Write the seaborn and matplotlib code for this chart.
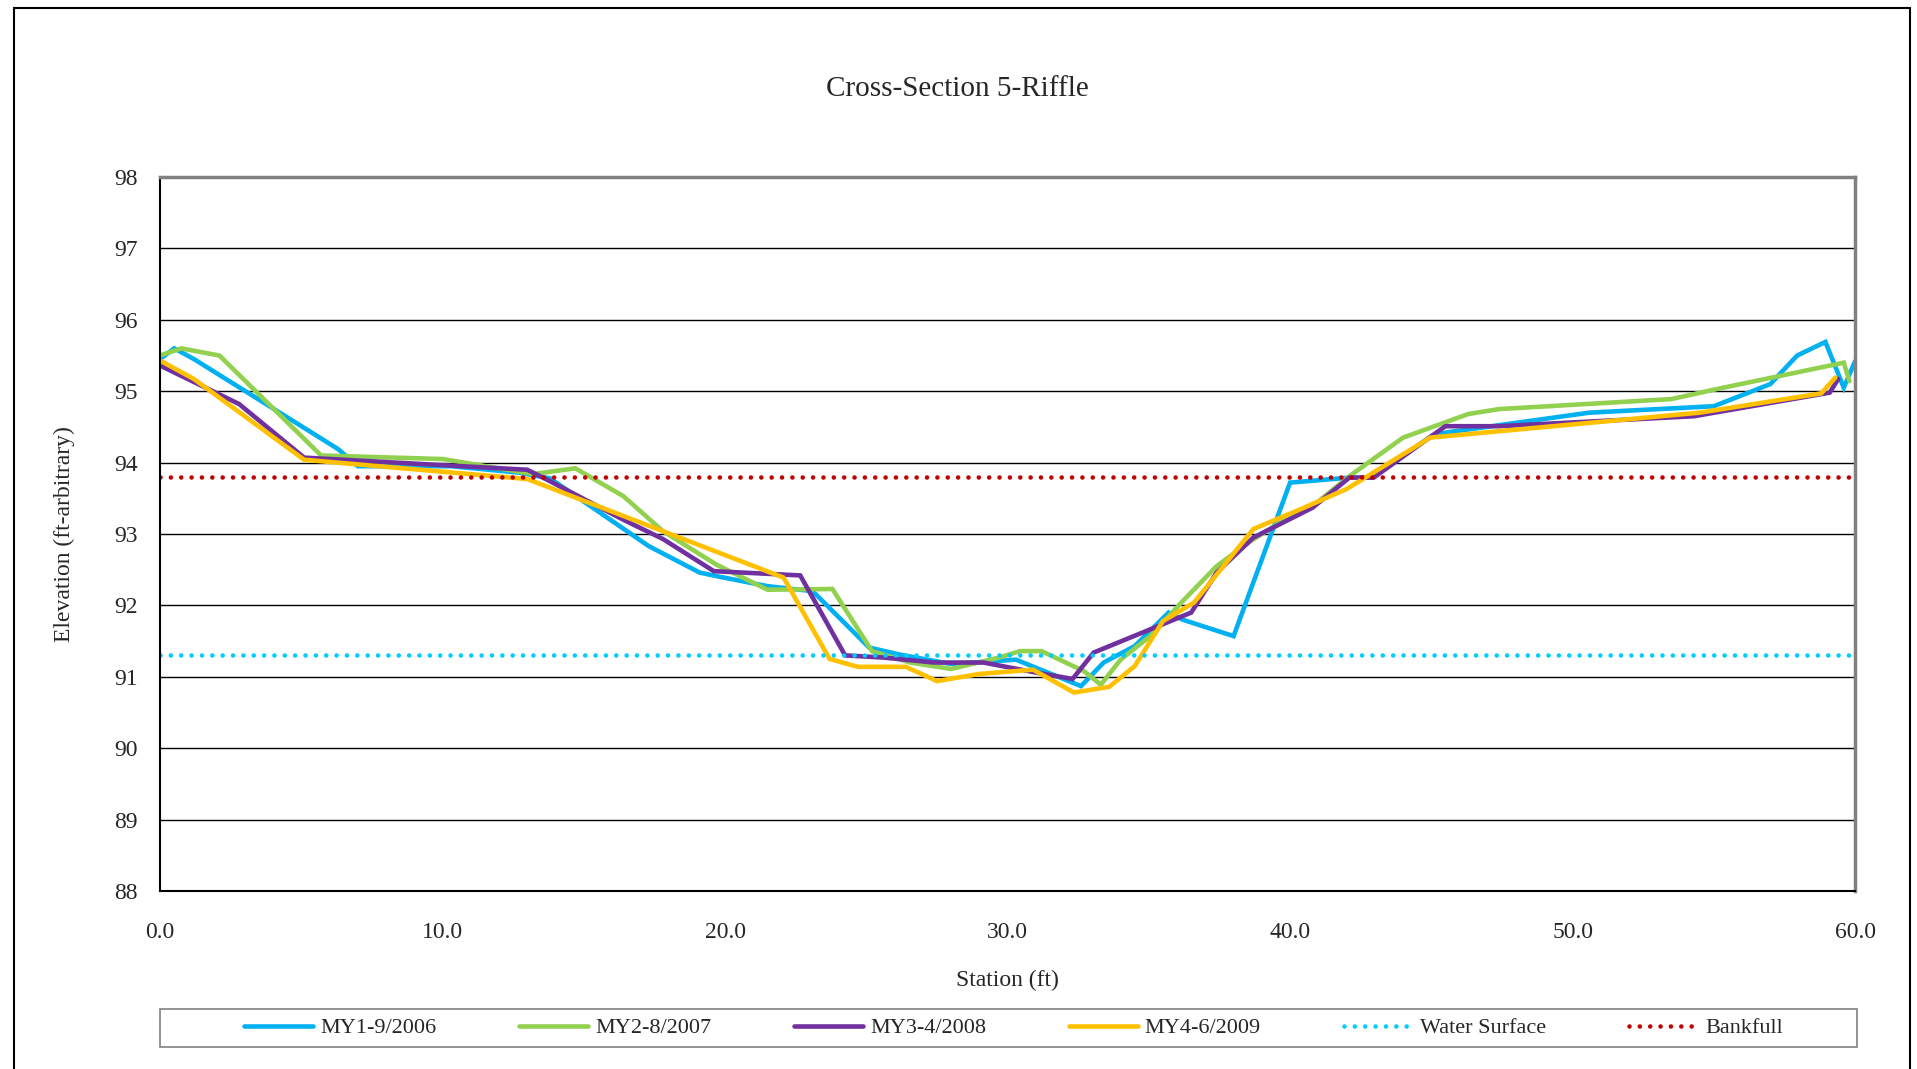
import matplotlib
matplotlib.use("Agg")
import matplotlib.pyplot as plt
import matplotlib.patches as mpatches
import seaborn as sns

sns.set_style("white")
plt.rcParams['font.family'] = ['Liberation Serif', 'DejaVu Serif']

# Levantamentos da secao transversal (estacao em ft, elevacao em ft)
my1_sta = [0.0, 0.5, 1.2, 6.3, 7.0, 10.3, 12.7, 13.8, 17.3, 19.1, 19.7, 21.5, 23.1, 25.1, 26.2,
           28.0, 30.3, 32.6, 33.4, 34.5, 35.7, 36.2, 38.0, 40.0, 42.1, 42.9, 45.0, 45.5, 50.6,
           55.0, 57.0, 57.95, 58.95, 59.6, 60.0]
my1_elev = [95.45, 95.6, 95.45, 94.19, 93.95, 93.95, 93.86, 93.78, 92.83, 92.46, 92.41, 92.27, 92.2,
            91.41, 91.31, 91.18, 91.24, 90.87, 91.2, 91.43, 91.9, 91.8, 91.57, 93.72, 93.79, 93.79,
            94.37, 94.42, 94.7, 94.79, 95.1, 95.5, 95.69, 95.05, 95.42]

my2_sta = [0.0, 0.75, 2.1, 5.7, 10.0, 13.2, 14.7, 16.4, 17.8, 19.7, 21.5, 23.8, 25.2, 26.55, 28.0,
           29.7, 30.45, 31.2, 32.7, 33.3, 34.0, 35.05, 36.2, 37.4, 38.6, 39.8, 40.95, 42.1, 44.0,
           46.3, 47.4, 53.5, 55.1, 59.6, 59.8]
my2_elev = [95.5, 95.6, 95.5, 94.1, 94.05, 93.84, 93.92, 93.53, 93.04, 92.57, 92.22, 92.23, 91.36,
            91.2, 91.11, 91.27, 91.36, 91.36, 91.08, 90.89, 91.24, 91.57, 92.06, 92.55, 92.9, 93.2,
            93.44, 93.81, 94.35, 94.68, 94.75, 94.89, 95.03, 95.4, 95.14]

my3_sta = [0.0, 2.8, 5.1, 13.0, 13.8, 16.4, 17.8, 19.6, 22.66, 24.25, 25.6, 27.4, 29.15, 31.0, 32.3,
           33.05, 34.9, 36.5, 37.4, 38.7, 40.8, 42.1, 42.96, 45.0, 45.5, 47.4, 54.3, 59.1, 59.4]
my3_elev = [95.36, 94.82, 94.07, 93.9, 93.74, 93.2, 92.93, 92.48, 92.42, 91.3, 91.27, 91.2, 91.2,
            91.06, 90.97, 91.34, 91.64, 91.9, 92.46, 92.95, 93.37, 93.79, 93.79, 94.37, 94.51, 94.51,
            94.65, 94.98, 95.17]

my4_sta = [0.0, 1.2, 5.1, 13.0, 17.8, 22.07, 23.7, 24.7, 26.4, 27.5, 29.0, 30.9, 32.35, 33.6, 34.5,
           35.5, 36.6, 38.7, 40.5, 42.0, 44.96, 47.4, 54.5, 58.8, 59.3]
my4_elev = [95.43, 95.17, 94.04, 93.77, 93.04, 92.39, 91.25, 91.14, 91.14, 90.94, 91.04, 91.1, 90.78,
            90.86, 91.15, 91.78, 92.04, 93.07, 93.37, 93.63, 94.35, 94.44, 94.7, 94.97, 95.19]

water_surface = 91.3
bankfull = 93.8

x_ticks = [0, 10, 20, 30, 40, 50, 60]
y_ticks = [88, 89, 90, 91, 92, 93, 94, 95, 96, 97, 98]

fig = plt.figure(figsize=(19.17, 10.69), dpi=100)
ax = fig.add_axes([0.0835, 0.1665, 0.8842, 0.6679])

series = [
    (my1_sta, my1_elev, 'MY1-9/2006', '#00B0F0'),
    (my2_sta, my2_elev, 'MY2-8/2007', '#92D050'),
    (my3_sta, my3_elev, 'MY3-4/2008', '#7030A0'),
    (my4_sta, my4_elev, 'MY4-6/2009', '#FFC000'),
]
for sta, elev, nome, cor in series:
    sns.lineplot(x=sta, y=elev, ax=ax, color=cor, linewidth=3.3, label=nome,
                 sort=False, estimator=None, solid_joinstyle='miter')

pontilhado = (0, (0.01, 2.25))
ax.axhline(water_surface, color='#00CCFF', linewidth=3.3, linestyle=pontilhado,
           dash_capstyle='round', label='Water Surface')
ax.axhline(bankfull, color='#C00000', linewidth=3.3, linestyle=pontilhado,
           dash_capstyle='round', label='Bankfull')

ax.set_xlim(0, 60)
ax.set_ylim(88, 98)
ax.set_xticks(x_ticks)
ax.set_xticklabels([f"{v:.1f}" for v in x_ticks])
ax.set_yticks(y_ticks)
ax.yaxis.grid(True, color='black', linewidth=1)
ax.xaxis.grid(False)
ax.tick_params(axis='both', direction='out', length=6, width=1, color='black',
               labelsize=17, pad=10)
ax.tick_params(axis='x', pad=16)

for lado in ['left', 'bottom']:
    ax.spines[lado].set_color('black')
    ax.spines[lado].set_linewidth(1.5)
for lado in ['top', 'right']:
    ax.spines[lado].set_color('#808080')
    ax.spines[lado].set_linewidth(2.5)

ax.set_xlabel('Station (ft)', fontsize=17, labelpad=20)
ax.set_ylabel('Elevation (ft-arbitrary)', fontsize=17, labelpad=28)
fig.text(0.4995, 0.917, 'Cross-Section 5-Riffle', ha='center', va='center', fontsize=21)

handles, labels = ax.get_legend_handles_labels()
ax.get_legend().remove()
fig.legend(handles, labels, ncol=6, loc='center', bbox_to_anchor=(0.5287, 0.0383),
           fontsize=16, frameon=False, handlelength=3.1, handletextpad=0.3,
           columnspacing=3.75)

# caixa da legenda e moldura externa do grafico
fig.patches.append(mpatches.Rectangle((0.0835, 0.0206), 0.8852, 0.0355, transform=fig.transFigure,
                                      fill=False, edgecolor='#808080', linewidth=1.2))
fig.patches.append(mpatches.Rectangle((0.0073, -0.05), 0.989, 1.0425, transform=fig.transFigure,
                                      fill=False, edgecolor='black', linewidth=1.5))

fig.savefig('out.png', dpi=100)
